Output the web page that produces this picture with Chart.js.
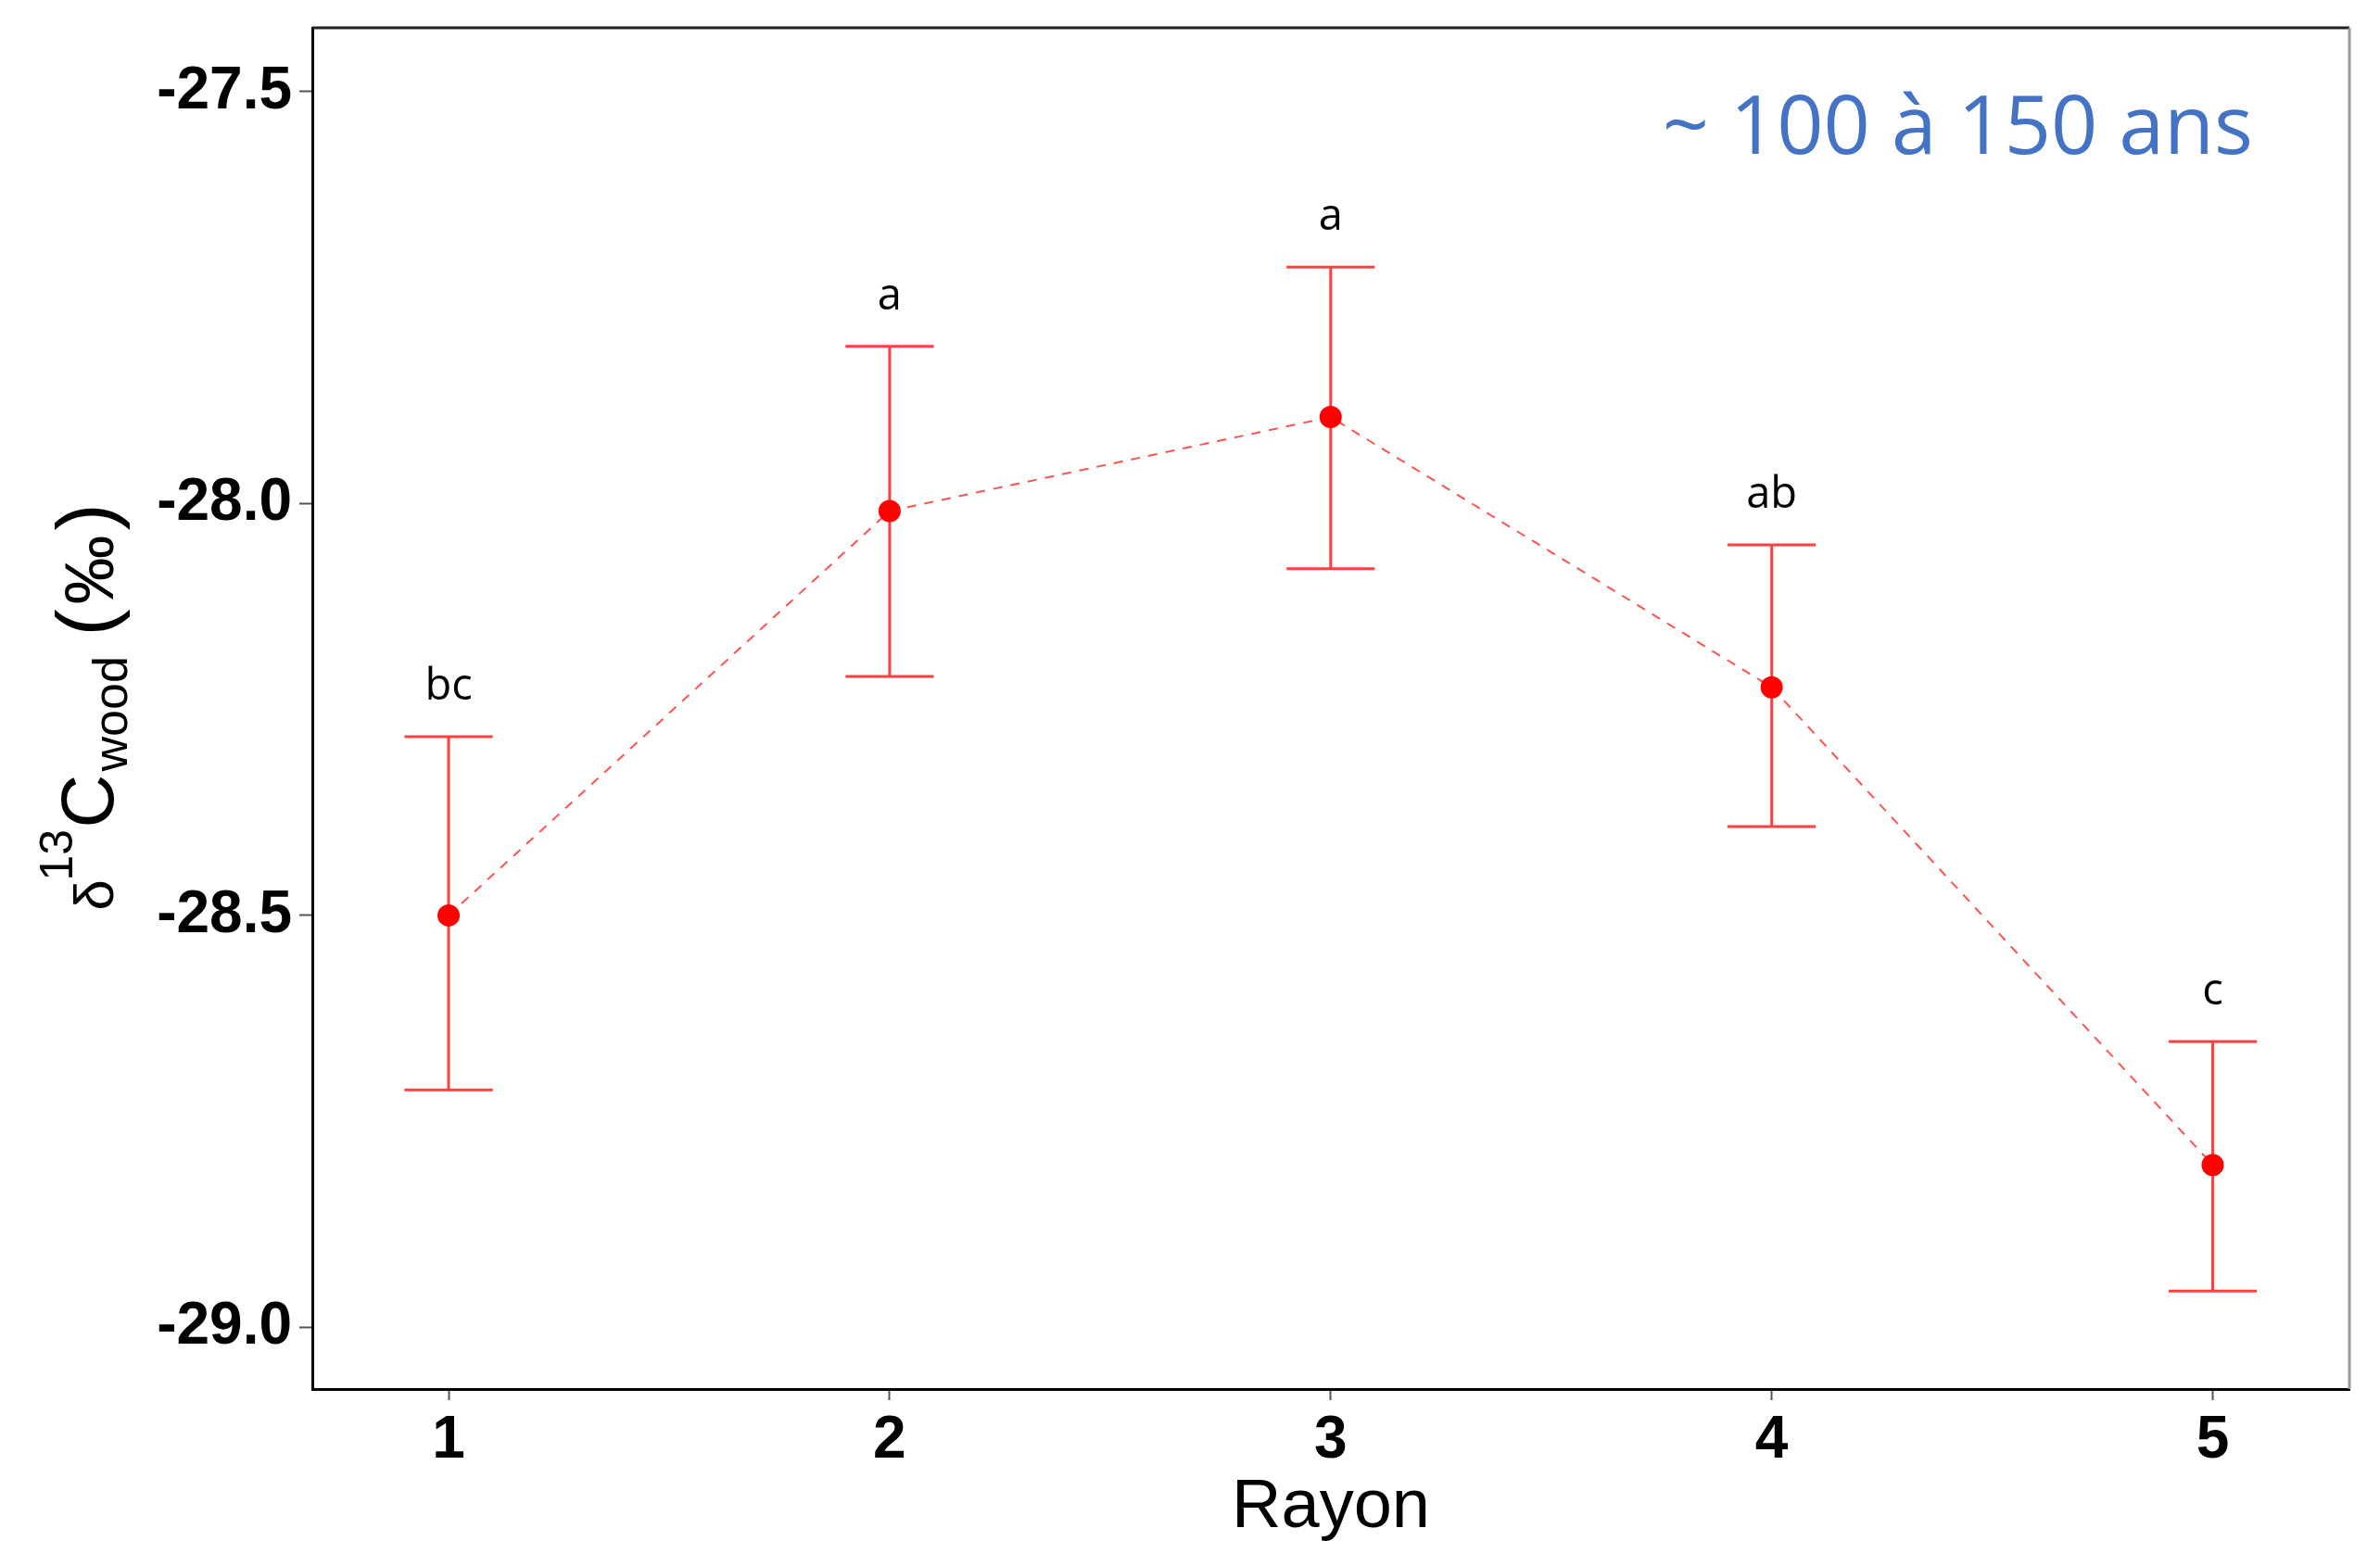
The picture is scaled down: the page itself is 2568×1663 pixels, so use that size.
<!DOCTYPE html>
<html>
<head>
<meta charset="utf-8">
<script src="https://cdn.jsdelivr.net/npm/chart.js@4.4.0/dist/chart.umd.min.js"></script>
<style>
  html, body { margin: 0; padding: 0; background: #fff; }
  canvas { display: block; }
</style>
</head>
<body>
<canvas id="graphique" width="2568" height="1663"></canvas>
<script>
// Données
const rayons = [1, 2, 3, 4, 5];
const moyennes = [-28.50, -28.009, -27.895, -28.223, -28.803];
const bornesHautes = [-28.283, -27.809, -27.713, -28.050, -28.653];
const bornesBasses = [-28.712, -28.210, -28.079, -28.392, -28.956];
const lettres = ['bc', 'a', 'a', 'ab', 'c'];
const graduationsY = [-29.0, -28.5, -28.0, -27.5];
const annotation = '~ 100 à 150 ans';

const ARIAL = "'Liberation Sans', Arial, sans-serif";
const OPEN = "'Open Sans', sans-serif";

// fond blanc
const fondBlanc = {
  id: 'fondBlanc',
  beforeDraw(chart) {
    const ctx = chart.ctx;
    ctx.save();
    ctx.fillStyle = '#fff';
    ctx.fillRect(0, 0, chart.width, chart.height);
    ctx.restore();
  }
};

// barres d'erreur
const barresErreur = {
  id: 'barresErreur',
  beforeDatasetsDraw(chart) {
    const { ctx, scales: { x, y } } = chart;
    ctx.save();
    ctx.strokeStyle = 'rgba(255, 30, 30, 0.85)';
    ctx.lineWidth = 3;
    rayons.forEach((r, i) => {
      const px = x.getPixelForValue(r);
      const g = x.getPixelForValue(r - 0.1);
      const d = x.getPixelForValue(r + 0.1);
      const h = y.getPixelForValue(bornesHautes[i]);
      const b = y.getPixelForValue(bornesBasses[i]);
      ctx.beginPath();
      ctx.moveTo(px, h); ctx.lineTo(px, b);
      ctx.moveTo(g, h); ctx.lineTo(d, h);
      ctx.moveTo(g, b); ctx.lineTo(d, b);
      ctx.stroke();
    });
    ctx.restore();
  },
  afterDatasetsDraw(chart) {
    const { ctx, chartArea, scales: { x, y } } = chart;
    ctx.save();
    // lettres de significativité
    ctx.fillStyle = '#000';
    ctx.font = '47px ' + OPEN;
    ctx.textAlign = 'center';
    ctx.textBaseline = 'alphabetic';
    rayons.forEach((r, i) => {
      ctx.fillText(lettres[i], x.getPixelForValue(r), y.getPixelForValue(bornesHautes[i]) - 40);
    });
    // annotation
    ctx.fillStyle = '#4472C4';
    ctx.font = '88px ' + OPEN;
    ctx.textAlign = 'right';
    ctx.fillText(annotation, chartArea.right - 104, chartArea.top + 136);
    // cadre haut / droit
    ctx.lineWidth = 3;
    ctx.strokeStyle = '#222';
    ctx.beginPath();
    ctx.moveTo(chartArea.left, chartArea.top);
    ctx.lineTo(chartArea.right, chartArea.top);
    ctx.stroke();
    ctx.strokeStyle = '#999';
    ctx.beginPath();
    ctx.moveTo(chartArea.right, chartArea.top);
    ctx.lineTo(chartArea.right, chartArea.bottom);
    ctx.stroke();
    ctx.restore();
  }
};

// titre de l'axe Y : δ13Cwood (‰)
const titreY = {
  id: 'titreY',
  afterDraw(chart) {
    const { ctx, chartArea } = chart;
    const cy = (chartArea.top + chartArea.bottom) / 2;
    ctx.save();
    ctx.translate(122, cy + 218);
    ctx.rotate(-Math.PI / 2);
    ctx.fillStyle = '#000';
    ctx.textBaseline = 'alphabetic';
    ctx.textAlign = 'left';
    ctx.font = '60px ' + ARIAL;
    ctx.fillText('δ', 0, 0);
    ctx.font = '50px ' + ARIAL;
    ctx.fillText('13', 32, -44);
    ctx.font = '80px ' + ARIAL;
    ctx.fillText('C', 89, 0);
    ctx.font = '52px ' + ARIAL;
    ctx.fillText('wood', 150, 15);
    ctx.font = '88px ' + ARIAL;
    ctx.fillText('(', 296, 0);
    ctx.font = '75px ' + ARIAL;
    ctx.fillText('‰', 330, 0);
    ctx.font = '88px ' + ARIAL;
    ctx.fillText(')', 410, 0);
    ctx.restore();
  }
};

new Chart(document.getElementById('graphique'), {
  type: 'scatter',
  data: {
    datasets: [{
      data: rayons.map((r, i) => ({ x: r, y: moyennes[i] })),
      showLine: true,
      borderColor: 'rgba(255, 40, 40, 0.8)',
      borderWidth: 2,
      borderDash: [10, 9],
      pointRadius: 12,
      pointBackgroundColor: '#ff0000',
      pointBorderWidth: 0
    }]
  },
  options: {
    responsive: false,
    animation: false,
    layout: { padding: { top: 30, right: 33, left: 0, bottom: 0 } },
    plugins: {
      legend: { display: false },
      tooltip: { enabled: false }
    },
    scales: {
      x: {
        type: 'linear',
        min: 0.691,
        max: 5.31,
        afterBuildTicks: s => { s.ticks = rayons.map(v => ({ value: v })); },
        afterFit: s => { s.height = 164; s.paddingLeft = 0; s.paddingRight = 0; },
        ticks: {
          color: '#000',
          font: { family: ARIAL, size: 64, weight: 'bold' },
          padding: 6,
          callback: v => String(v)
        },
        grid: { drawOnChartArea: false, tickLength: 12, tickColor: '#555', tickWidth: 2 },
        border: { color: '#000', width: 3 }
      },
      y: {
        min: -29.075,
        max: -27.4224,
        afterBuildTicks: s => { s.ticks = graduationsY.map(v => ({ value: v })); },
        afterFit: s => { s.width = 337; s.paddingTop = 0; s.paddingBottom = 0; },
        ticks: {
          color: '#000',
          font: { family: ARIAL, size: 64, weight: 'bold' },
          padding: 8,
          callback: v => v.toFixed(1)
        },
        grid: { drawOnChartArea: false, tickLength: 14, tickColor: '#555', tickWidth: 2 },
        border: { color: '#000', width: 3 }
      }
    }
  },
  plugins: [fondBlanc, barresErreur, titreY]
});
</script>
<div style="position:absolute;left:0;top:0;width:2568px;height:1663px;pointer-events:none;">
  <div style="position:absolute;left:1236px;width:400px;top:1586px;text-align:center;font-family:'Liberation Sans',Arial,sans-serif;font-size:74px;line-height:74px;color:#000;">Rayon</div>
</div>
</body>
</html>
